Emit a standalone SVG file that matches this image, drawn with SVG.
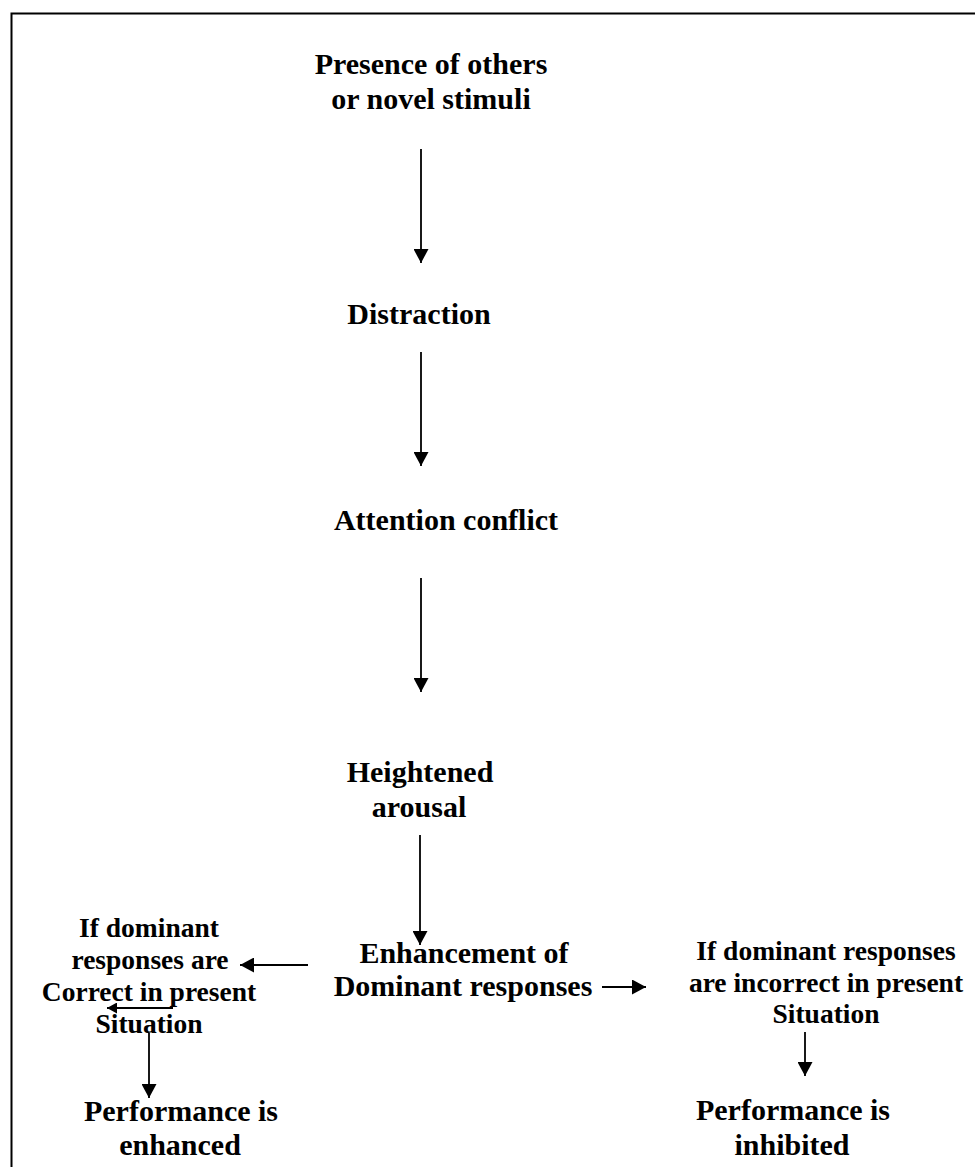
<svg xmlns="http://www.w3.org/2000/svg" width="975" height="1167" viewBox="0 0 975 1167">
<defs>
<style>
text{font-family:"Liberation Serif","Times New Roman",serif;font-weight:bold;fill:#000;text-anchor:middle}
.big{font-size:30px}
.mid{font-size:27.5px}
.ln{stroke:#000;stroke-width:1.8;fill:none}
</style>
<marker id="ah" markerUnits="userSpaceOnUse" markerWidth="15" markerHeight="15" refX="14" refY="7.5" orient="auto" viewBox="0 0 15 15">
<path d="M0,0 L14,7.5 L0,15 Z" fill="#000"/>
</marker>
<marker id="ahs" markerUnits="userSpaceOnUse" markerWidth="11" markerHeight="11" refX="10" refY="5.5" orient="auto" viewBox="0 0 11 11">
<path d="M0,0 L10,5.5 L0,11 Z" fill="#000"/>
</marker>
</defs>
<rect width="975" height="1167" fill="#fff"/>
<path d="M11.5,1167 V13.5 H975" fill="none" stroke="#000" stroke-width="2"/>
<g id="connectors">
<line class="ln" x1="421" y1="149" x2="421" y2="263" marker-end="url(#ah)"/>
<line class="ln" x1="421" y1="352" x2="421" y2="466" marker-end="url(#ah)"/>
<line class="ln" x1="421" y1="578" x2="421" y2="692" marker-end="url(#ah)"/>
<line class="ln" x1="420" y1="835" x2="420" y2="945" marker-end="url(#ah)"/>
<line class="ln" x1="308" y1="965" x2="240" y2="965" marker-end="url(#ah)"/>
<line class="ln" x1="602" y1="987" x2="646" y2="987" marker-end="url(#ah)"/>
<line class="ln" x1="173" y1="1008" x2="107" y2="1008" marker-end="url(#ahs)"/>
<line class="ln" x1="149" y1="1033" x2="149" y2="1098" marker-end="url(#ah)"/>
<line class="ln" x1="805" y1="1032" x2="805" y2="1076" marker-end="url(#ah)"/>
</g>
<g id="n1"><text class="big" x="431" y="74">Presence of others</text><text class="big" x="431" y="109">or novel stimuli</text></g>
<g id="n2"><text class="big" x="419" y="324">Distraction</text></g>
<g id="n3"><text class="big" x="446" y="530">Attention conflict</text></g>
<g id="n4"><text class="big" x="420" y="782">Heightened</text><text class="big" x="419" y="817">arousal</text></g>
<g id="n5"><text class="big" x="464" y="963">Enhancement of</text><text class="big" x="463" y="996">Dominant responses</text></g>
<g id="n6"><text class="mid" x="149" y="937">If dominant</text><text class="mid" x="150" y="969">responses are</text><text class="mid" x="149" y="1001">Correct in present</text><text class="mid" x="149" y="1033">Situation</text></g>
<g id="n7"><text class="mid" x="826" y="960">If dominant responses</text><text class="mid" x="826" y="992">are incorrect in present</text><text class="mid" x="826" y="1023">Situation</text></g>
<g id="n8"><text class="big" x="181" y="1121">Performance is</text><text class="big" x="180" y="1155">enhanced</text></g>
<g id="n9"><text class="big" x="793" y="1120">Performance is</text><text class="big" x="792" y="1155">inhibited</text></g>
</svg>
